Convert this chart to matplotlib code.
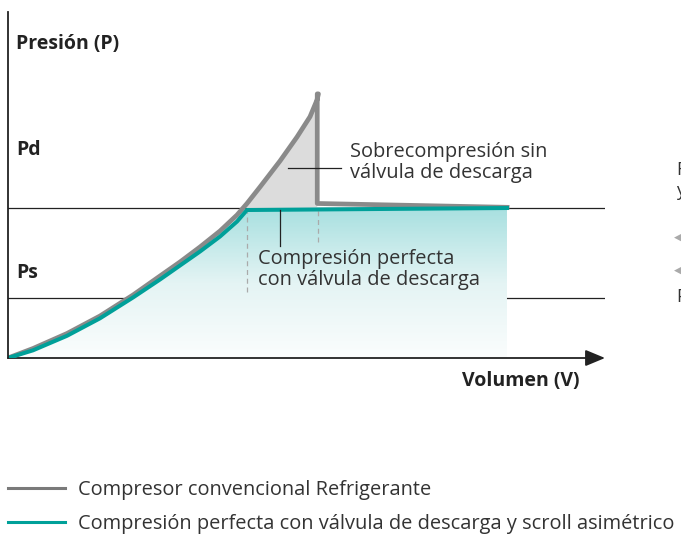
import numpy as np
import matplotlib.pyplot as plt
from matplotlib.colors import LinearSegmentedColormap
from matplotlib.patches import Polygon

plt.rcParams['font.family'] = ['Open Sans', 'DejaVu Sans']

# Curva del compresor convencional (V, P) en % de los ejes
conv_v = [0.0, 4.19, 9.88, 15.41, 20.94, 25.46, 28.81, 32.16, 35.51, 38.36,
          40.03, 42.21, 45.56, 48.41, 50.59, 51.76, 52.0, 51.8, 51.8, 83.6]
conv_p = [0.0, 2.73, 7.04, 12.07, 18.10, 23.56, 27.59, 31.90, 36.49, 41.09,
          44.40, 49.14, 56.61, 63.51, 69.34, 74.14, 75.9, 75.9, 44.4, 43.3]

# Compresión perfecta con válvula de descarga
perf_v = [0.0, 4.19, 9.88, 15.41, 20.94, 25.46, 28.81, 32.16, 35.51, 38.36, 40.03, 83.58]
perf_p = [0.0, 2.21, 6.38, 11.41, 17.39, 22.56, 26.58, 30.60, 34.91, 39.22, 42.53, 43.10]

pd_level = 43.0
ps_level = 17.2
dash_v = [40.0, 51.9]
dash_top = [42.0, 42.5]
dash_bottom = [19.0, 33.3]

legend_labels = ["Compresor convencional Refrigerante",
                 "Compresión perfecta con válvula de descarga y scroll asimétrico"]

GREY = "#8a8a8a"
TEAL = "#00a099"
INK = "#222222"

W, H = 681, 534
fig = plt.figure(figsize=(W / 100, H / 100), dpi=100)
ax = fig.add_axes([8 / W, (H - 358) / H, 597 / W, 348 / H])
ax.set_xlim(0, 100)
ax.set_ylim(0, 100)
ax.axis("off")

# niveles Pd y Ps
ax.plot([0, 100], [pd_level, pd_level], color=INK, lw=0.9, zorder=1)
ax.plot([0, 100], [ps_level, ps_level], color=INK, lw=0.9, zorder=1)

# relleno degradado bajo la curva perfecta
poly_v = perf_v + [perf_v[-1], 0]
poly_p = perf_p + [0, 0]
clip = Polygon(np.column_stack([poly_v, poly_p]), closed=True, facecolor="none",
               edgecolor="none", transform=ax.transData)
ax.add_patch(clip)
cmap = LinearSegmentedColormap.from_list("aqua", ["#fbfdfd", "#e4f4f4", "#a8e0e0"])
grad = np.linspace(0, 1, 256).reshape(-1, 1)
img = ax.imshow(grad, extent=(0, perf_v[-1], 0, max(perf_p)), origin="lower",
                cmap=cmap, aspect="auto", zorder=2)
img.set_clip_path(clip)

# zona de sobrecompresión (entre la curva gris y la línea perfecta)
top_v = conv_v[10:19]
top_p = conv_p[10:19]
over_v = [perf_v[10]] + top_v + [51.8]
over_p = [perf_p[10]] + top_p + [43.0]
over = Polygon(np.column_stack([over_v, over_p]), closed=True,
               facecolor="#dcdcdc", edgecolor="none", zorder=2)
ax.add_patch(over)

# líneas discontinuas
for v, t, b in zip(dash_v, dash_top, dash_bottom):
    ax.plot([v, v], [b, t], color="#aaaaaa", lw=0.9, ls=(0, (4, 3)), zorder=3)

line_conv, = ax.plot(conv_v, conv_p, color=GREY, lw=3.4, solid_joinstyle="round",
                     zorder=4, label=legend_labels[0])
line_perf, = ax.plot(perf_v, perf_p, color=TEAL, lw=2.9, solid_joinstyle="round",
                     zorder=5, label=legend_labels[1])

# ejes
ax.plot([0, 0], [0, 99.4], color=INK, lw=1.3, zorder=6, clip_on=False)
ax.annotate("", xy=(100, 0), xytext=(0, 0), annotation_clip=False,
            arrowprops=dict(arrowstyle="-|>,head_length=1.2,head_width=0.5",
                            color=INK, lw=1.3, shrinkA=0, shrinkB=0))

# anotaciones
ax.plot([46.9, 55.8], [54.6, 54.6], color=INK, lw=0.9, zorder=6)
ax.plot([45.6, 45.6], [42.5, 32.2], color=INK, lw=0.9, zorder=6)
ax.text(57.3, 56.2, "Sobrecompresión sin\nválvula de descarga", fontsize=14.4,
        color="#333333", va="center", ha="left", linespacing=1.1)
ax.text(41.9, 25.4, "Compresión perfecta\ncon válvula de descarga", fontsize=14.4,
        color="#333333", va="center", ha="left", linespacing=1.1)

# rótulos
bold = dict(fontsize=14, fontweight="bold", color=INK, clip_on=False)
fig.text(16 / W, 1 - 44 / H, "Presión (P)", va="center", ha="left", **bold)
fig.text(16 / W, 1 - 150 / H, "Pd", va="center", ha="left", **bold)
fig.text(16 / W, 1 - 273 / H, "Ps", va="center", ha="left", **bold)
fig.text(580 / W, 1 - 381 / H, "Volumen (V)", va="center", ha="right", **bold)

# leyenda
fig.legend(handles=[line_conv, line_perf], loc="upper left",
           bbox_to_anchor=(8 / W, 1 - 480 / H), frameon=False, fontsize=14.4,
           handlelength=2.85, handletextpad=0.65, labelspacing=0.72,
           borderpad=0, borderaxespad=0)
leg = fig.legends[0]
leg.legend_handles[0].set_linewidth(2.2)
leg.legend_handles[0].set_color("#7a7a7a")
leg.legend_handles[1].set_linewidth(2.2)
for t in leg.get_texts():
    t.set_color("#333333")

# fragmentos del gráfico vecino recortados en el borde derecho
fig.text(676 / W, 1 - 170 / H, "F", fontsize=13, color="#333333", va="center")
fig.text(676 / W, 1 - 191 / H, "y", fontsize=13, color="#333333", va="center")
fig.text(674 / W, 1 - 237 / H, "◀", fontsize=9, color="#aaaaaa", va="center")
fig.text(674 / W, 1 - 270 / H, "◀", fontsize=9, color="#aaaaaa", va="center")
fig.text(676 / W, 1 - 297 / H, "P", fontsize=13, color="#333333", va="center")

fig.savefig("out.png", dpi=100)
